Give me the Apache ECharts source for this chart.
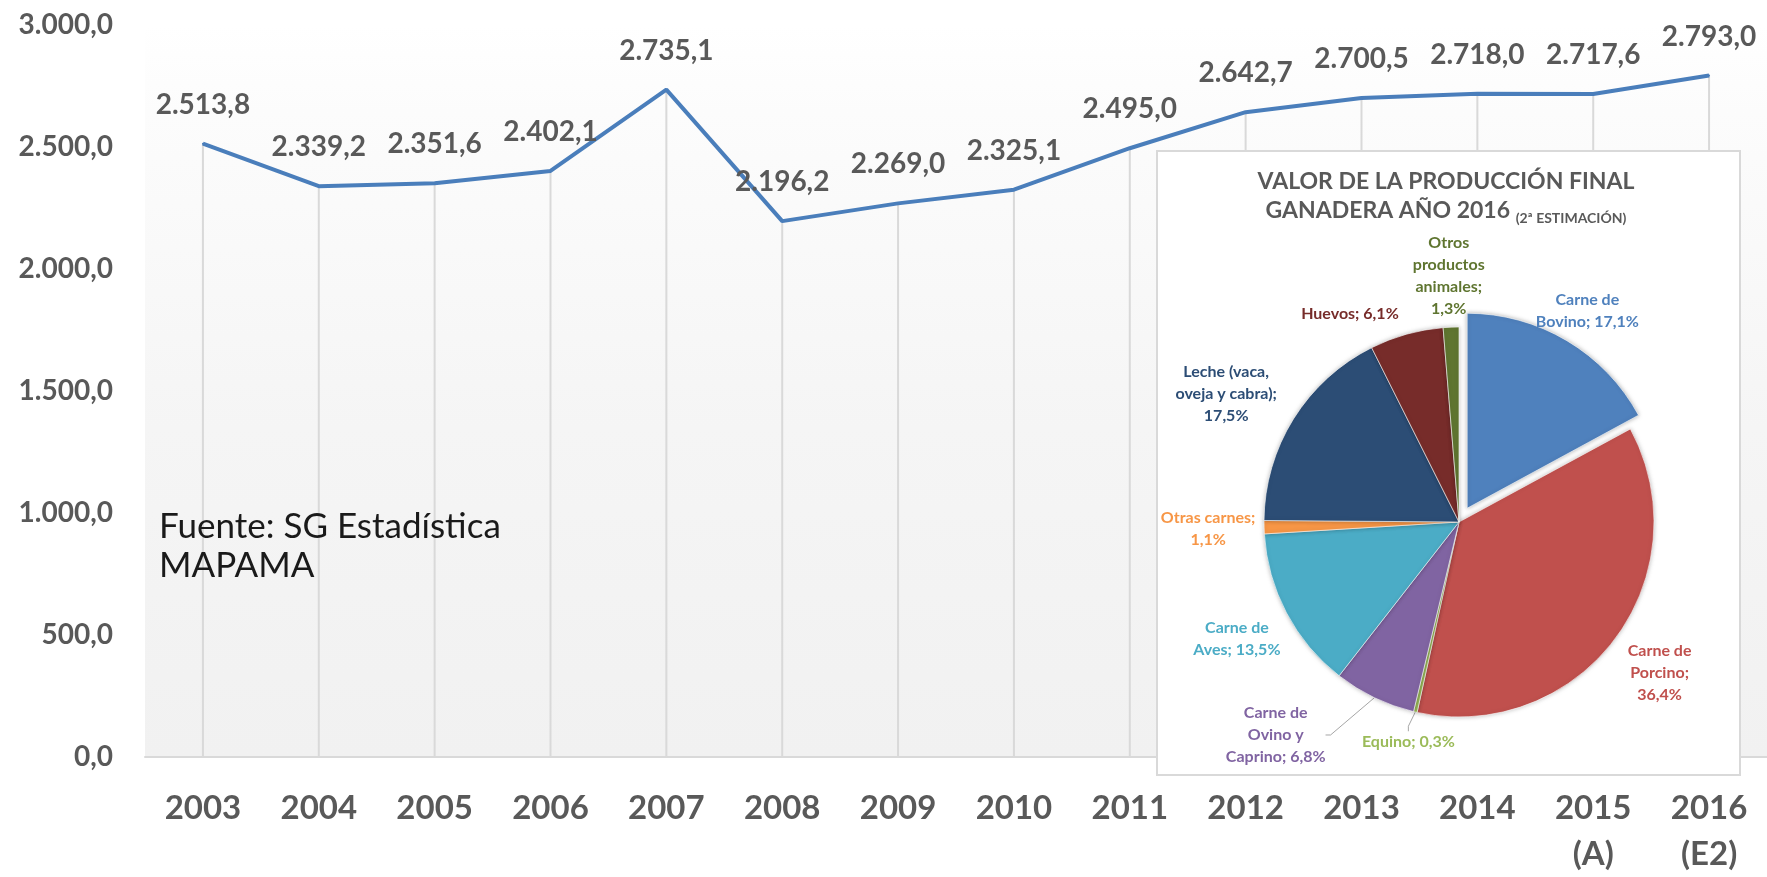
<!DOCTYPE html>
<html><head><meta charset="utf-8">
<script src="https://cdn.jsdelivr.net/npm/echarts@6/dist/echarts.min.js"></script>
<style>html,body{margin:0;padding:0;background:#fff}#c{width:1767px;height:877px}</style>
</head><body><div id="c"></div>
<script>
// ---- data ----
const years = ['2003','2004','2005','2006','2007','2008','2009','2010','2011','2012','2013','2014','2015\n(A)','2016\n(E2)'];
const production = [2513.8, 2339.2, 2351.6, 2402.1, 2735.1, 2196.2, 2269.0, 2325.1, 2495.0, 2642.7, 2700.5, 2718.0, 2717.6, 2793.0];
const yMin = 0, yMax = 3000, yStep = 500;

const pieNames = ['Carne de\nBovino', 'Carne de\nPorcino', 'Equino', 'Carne de\nOvino y\nCaprino', 'Carne de\nAves',
                  'Otras carnes', 'Leche (vaca,\noveja y cabra)', 'Huevos', 'Otros\nproductos\nanimales'];
const pieShares = [17.1, 36.4, 0.3, 6.8, 13.5, 1.1, 17.5, 6.1, 1.3];
const pieBreakBeforeValue = [false, true, false, false, false, true, true, false, true];
const pieWithLine = [false, false, true, true, false, false, false, false, false];
const pieExploded = [true, false, false, false, false, false, false, false, false];

const titleLine1 = 'VALOR DE LA PRODUCCIÓN FINAL';
const titleLine2 = 'GANADERA AÑO 2016 ';
const titleNote = '(2ª ESTIMACIÓN)';
const sourceText = 'Fuente: SG Estadística\nMAPAMA';

// ---- styles ----
const pieColors = ['#4f81bd', '#c0504d', '#9bbb59', '#8064a2', '#4bacc6', '#f79646', '#2c4d75', '#772c2a', '#5f7530'];
const TXT = '#595959';
const FONT = 'Lato, "Open Sans", sans-serif';
const PIE_CX = 1459, PIE_CY = 522, PIE_R = 195, EXPLODE = 16;
const labelTweak = {0: {dy: 5}, 2: {dr: 31}, 3: {dr: 86, da: 15}, 6: {dr: 71, da: -3}, 7: {dr: 40, da: -12}, 8: {dy: 5}};

function fmt(v) {
  const s = v.toFixed(1).split('.');
  return s[0].replace(/\B(?=(\d{3})+(?!\d))/g, '.') + ',' + s[1];
}

const chart = echarts.init(document.getElementById('c'), null, {renderer: 'canvas'});
const shareTotal = pieShares.reduce((a, b) => a + b, 0);
function midAngle(i) {
  let cum = 0;
  for (let j = 0; j < i; j++) cum += pieShares[j];
  return ((cum + pieShares[i] / 2) / shareTotal) * 2 * Math.PI;
}
const HIDDEN = {color: 'rgba(0,0,0,0)', borderWidth: 0, shadowBlur: 0, shadowColor: 'rgba(0,0,0,0)'};

// main pie: every slice except exploded ones (kept as invisible placeholders that carry the label)
const pieData = pieNames.map((n, i) => ({
  name: n,
  value: pieShares[i],
  itemStyle: pieExploded[i] ? HIDDEN : {color: pieColors[i]},
  label: {color: pieColors[i]},
  labelLine: {show: pieWithLine[i]}
}));
// exploded pie layers: one per exploded slice, shifted along its bisector
const explodedSeries = [];
pieExploded.forEach((ex, k) => {
  if (!ex) return;
  const a = midAngle(k);
  explodedSeries.push({
    type: 'pie', z: 19, silent: true, center: [PIE_CX + EXPLODE * Math.sin(a), PIE_CY - EXPLODE * Math.cos(a)],
    radius: PIE_R, startAngle: 90, clockwise: true, label: {show: false}, labelLine: {show: false},
    emphasis: {disabled: true},
    itemStyle: {borderColor: '#ffffff', borderWidth: 0.6, shadowBlur: 4, shadowColor: 'rgba(0,0,0,0.3)'},
    data: pieNames.map((n, i) => ({name: n, value: pieShares[i], itemStyle: i === k ? {color: pieColors[i]} : HIDDEN}))
  });
});

const option = {
  backgroundColor: '#ffffff',
  animation: false,
  title: {
    text: titleLine1 + '\n' + titleLine2 + '{s|' + titleNote + '}',
    left: 1446, top: 167, textAlign: 'center', padding: 0, z: 30,
    textStyle: {
      fontFamily: FONT, fontSize: 23, fontWeight: 'bold', color: TXT, lineHeight: 29,
      rich: {s: {fontFamily: FONT, fontSize: 14, fontWeight: 'bold', color: TXT, lineHeight: 21, verticalAlign: 'bottom'}}
    }
  },
  grid: {
    left: 145, top: 25, width: 1624, height: 736, show: true, borderWidth: 0,
    backgroundColor: new echarts.graphic.LinearGradient(0, 0, 0, 1, [
      {offset: 0, color: '#ffffff'}, {offset: 0.12, color: '#fcfcfc'},
      {offset: 0.55, color: '#f5f5f5'}, {offset: 1, color: '#f1f1f1'}
    ])
  },
  xAxis: {
    type: 'category', data: years, boundaryGap: true,
    axisTick: {show: false},
    axisLine: {lineStyle: {color: '#d9d9d9', width: 2}},
    axisLabel: {interval: 0, margin: 28, fontFamily: FONT, fontSize: 33, fontWeight: 'bold', color: TXT, lineHeight: 46},
    splitLine: {show: false}
  },
  yAxis: {
    type: 'value', min: yMin, max: yMax, interval: yStep,
    axisLine: {show: false}, axisTick: {show: false}, splitLine: {show: false},
    axisLabel: {margin: 32, fontFamily: FONT, fontSize: 28, fontWeight: 'bold', color: TXT, formatter: fmt}
  },
  graphic: [
    {type: 'text', left: 159, top: 507, z: 5,
     style: {text: sourceText, font: '35px ' + FONT, lineHeight: 39, fill: '#1a1a1a'}},
    {type: 'rect', z: 10, shape: {x: 1157, y: 151, width: 583, height: 624},
     style: {fill: '#ffffff', stroke: '#d9d9d9', lineWidth: 2}}
  ],
  series: [
    {
      type: 'bar', data: production, barWidth: 2, silent: true, z: 1,
      itemStyle: {color: '#d9d9d9'}
    },
    {
      type: 'line', data: production, symbol: 'circle', symbolSize: 2, showSymbol: true, showAllSymbol: true, z: 3,
      itemStyle: {color: '#4a7ebb'},
      lineStyle: {color: '#4a7ebb', width: 4},
      label: {show: true, position: 'top', distance: 24, fontFamily: FONT, fontSize: 28, fontWeight: 'bold', color: TXT,
              formatter: p => fmt(p.value)}
    },
    ...explodedSeries,
    {
      type: 'pie', z: 20, center: [PIE_CX, PIE_CY], radius: PIE_R, startAngle: 90, clockwise: true,
      avoidLabelOverlap: false, silent: true,
      data: pieData,
      itemStyle: {borderColor: '#ffffff', borderWidth: 0.6, shadowBlur: 4, shadowColor: 'rgba(0,0,0,0.25)'},
      emphasis: {disabled: true},
      label: {
        show: true, position: 'outside', fontFamily: FONT, fontSize: 16, fontWeight: 'bold', lineHeight: 22,
        formatter: p => pieNames[p.dataIndex] + ';' + (pieBreakBeforeValue[p.dataIndex] ? '\n' : ' ') +
                        p.value.toFixed(1).replace('.', ',') + '%'
      },
      labelLine: {length: 10, length2: 5, smooth: false, lineStyle: {color: '#a6a6a6', width: 1}},
      labelLayout: function (p) {
        const i = p.dataIndex;
        const tw = labelTweak[i] || {};
        const a = midAngle(i) + (tw.da || 0) * Math.PI / 180;
        const R = PIE_R + (tw.dr != null ? tw.dr : 56);
        return {x: PIE_CX + R * Math.sin(a) + (tw.dx || 0), y: PIE_CY - R * Math.cos(a) + (tw.dy || 0),
                align: 'center', verticalAlign: 'middle'};
      }
    }
  ]
};
chart.setOption(option);
</script>
</body></html>
